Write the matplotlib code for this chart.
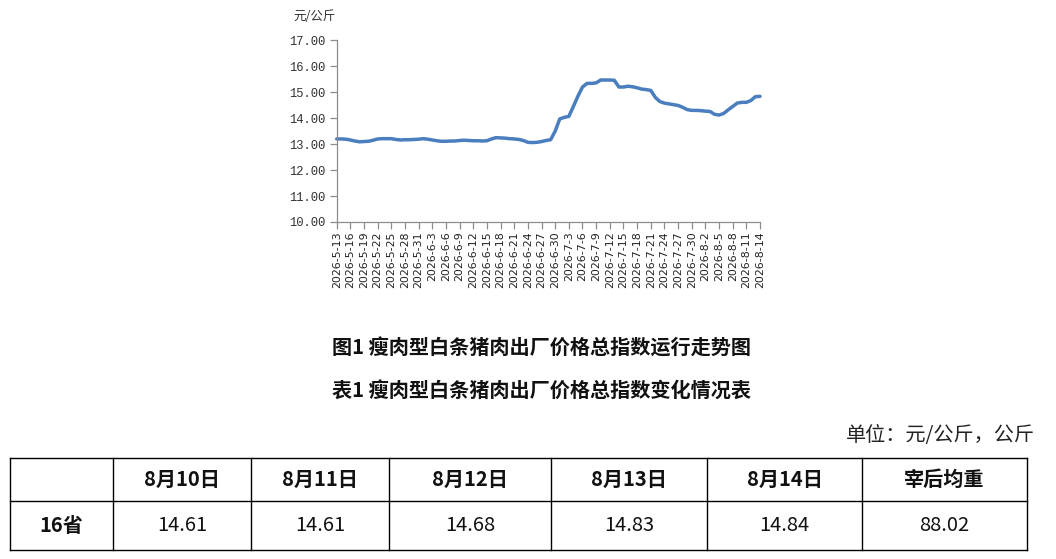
import matplotlib
matplotlib.use("Agg")
import matplotlib.pyplot as plt
import datetime as dt

plt.rcParams['font.family'] = ['Noto Sans CJK SC', 'DejaVu Sans']

# ---- data ----
start_date = dt.date(2026, 5, 13)
price_index = [
    13.20, 13.20, 13.19, 13.16, 13.12, 13.09, 13.10, 13.11, 13.15, 13.20,
    13.21, 13.21, 13.21, 13.18, 13.16, 13.17, 13.17, 13.18, 13.19, 13.21,
    13.19, 13.16, 13.13, 13.11, 13.11, 13.12, 13.12, 13.14, 13.15, 13.14,
    13.13, 13.13, 13.12, 13.13, 13.20, 13.25, 13.24, 13.23, 13.21, 13.20,
    13.18, 13.14, 13.07, 13.06, 13.07, 13.10, 13.14, 13.17, 13.50, 13.97,
    14.03, 14.07, 14.45, 14.85, 15.20, 15.34, 15.34, 15.36, 15.47, 15.47,
    15.47, 15.46, 15.20, 15.20, 15.23, 15.21, 15.17, 15.12, 15.10, 15.07,
    14.80, 14.64, 14.58, 14.55, 14.52, 14.49, 14.42, 14.33, 14.30, 14.30,
    14.29, 14.27, 14.26, 14.15, 14.12, 14.18, 14.32, 14.45, 14.58, 14.61,
    14.61, 14.68, 14.83, 14.84,
]
dates = [start_date + dt.timedelta(days=i) for i in range(len(price_index))]
date_labels = [f"{d.year}-{d.month}-{d.day}" for d in dates]
label_step = 3
y_ticks = [10, 11, 12, 13, 14, 15, 16, 17]

table_header = ["", "8月10日", "8月11日", "8月12日", "8月13日", "8月14日", "宰后均重"]
table_row_name = "16省"
table_values = ["14.61", "14.61", "14.68", "14.83", "14.84", "88.02"]

fig_title = "图1 瘦肉型白条猪肉出厂价格总指数运行走势图"
table_title = "表1 瘦肉型白条猪肉出厂价格总指数变化情况表"
unit_text = "单位：元/公斤，公斤"
y_unit = "元/公斤"

# ---- figure ----
W, H = 1056, 559
fig = plt.figure(figsize=(W / 100, H / 100), dpi=100)
fig.patch.set_facecolor("white")

def fx(px):
    return px / W

def fy(py):
    return 1 - py / H

left, right, top, bottom = 336.7, 760.0, 40.3, 222.0
ax = fig.add_axes([fx(left), fy(bottom), fx(right) - fx(left), fy(top) - fy(bottom)])
x = list(range(len(price_index)))
ax.plot(x, price_index, color="#4A7EBE", lw=2.5, solid_joinstyle="round",
        solid_capstyle="round", clip_on=False)
ax.set_xlim(0, len(price_index) - 1)
ax.set_ylim(10, 17)
axis_col = "#8C8C8C"
for s in ["top", "right"]:
    ax.spines[s].set_visible(False)
for s in ["left", "bottom"]:
    ax.spines[s].set_color(axis_col)
    ax.spines[s].set_linewidth(0.9)
ax.set_yticks(y_ticks)
ax.set_yticklabels([f"{v:.2f}" for v in y_ticks], family="Liberation Mono",
                   fontsize=8.7, color="#333333")
xt = list(range(0, len(price_index), label_step))
ax.set_xticks(xt)
ax.set_xticklabels([date_labels[i] for i in xt], rotation=90, family="DejaVu Sans",
                   fontsize=7.9, color="#222222")
ax.tick_params(axis="both", colors=axis_col, length=5, width=0.9)
ax.tick_params(axis="y", labelcolor="#333333", pad=3)
ax.tick_params(axis="x", labelcolor="#222222", pad=2)
ax.patch.set_alpha(0)

fig.text(fx(293), fy(17), y_unit, fontsize=9, color="#333333", ha="left", va="center")

# ---- overlay for titles and table ----
ov = fig.add_axes([0, 0, 1, 1], zorder=-1)
ov.set_xlim(0, W)
ov.set_ylim(H, 0)
ov.axis("off")

ov.text(542, 348, fig_title, fontsize=14.5, fontweight="bold", ha="center",
        va="center", color="#111111")
ov.text(542, 390, table_title, fontsize=14.5, fontweight="bold", ha="center",
        va="center", color="#111111")
ov.text(1035, 436, unit_text, fontsize=14.5, ha="right", va="center",
        color="#222222")

col_edges = [9.7, 113, 251, 389, 551, 707, 862, 1027]
row_edges = [457.7, 501, 550]
for yv in row_edges:
    ov.plot([col_edges[0], col_edges[-1]], [yv, yv], color="black", lw=1.0)
for xv in col_edges:
    ov.plot([xv, xv], [row_edges[0], row_edges[-1]], color="black", lw=1.0)

for i, h in enumerate(table_header):
    cx = (col_edges[i] + col_edges[i + 1]) / 2
    cy = (row_edges[0] + row_edges[1]) / 2
    ov.text(cx, cy, h, fontsize=14.5, fontweight="bold", ha="center",
            va="center", color="#111111")
cy2 = (row_edges[1] + row_edges[2]) / 2
ov.text((col_edges[0] + col_edges[1]) / 2, cy2, table_row_name, fontsize=14.5,
        fontweight="bold", ha="center", va="center", color="#111111")
for i, v in enumerate(table_values):
    cx = (col_edges[i + 1] + col_edges[i + 2]) / 2
    ov.text(cx, cy2, v, fontsize=14.5, ha="center", va="center", color="#111111")

fig.savefig("out.png", dpi=100, facecolor="white")
